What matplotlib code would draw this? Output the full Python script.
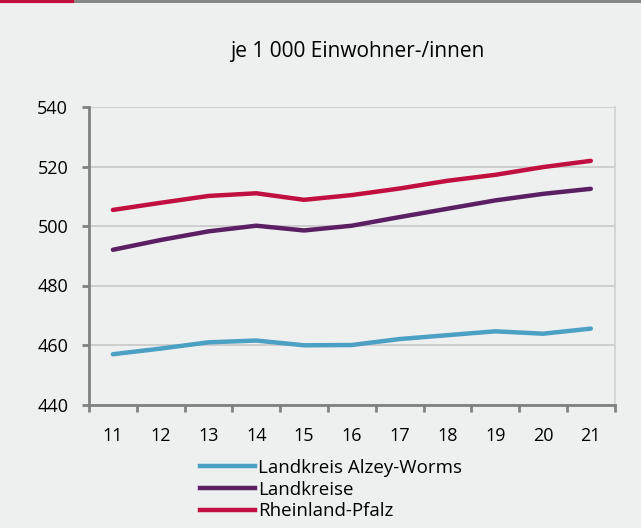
import numpy as np
import matplotlib
matplotlib.use("Agg")
import matplotlib.pyplot as plt
from matplotlib.lines import Line2D

plt.rcParams['font.family'] = ['Open Sans', 'DejaVu Sans']

years = ["11", "12", "13", "14", "15", "16", "17", "18", "19", "20", "21"]
alzey = [456.9, 458.8, 460.9, 461.5, 459.9, 460.0, 462.0, 463.3, 464.6, 463.8, 465.5]
landkreise = [492.0, 495.3, 498.2, 500.1, 498.5, 500.1, 503.0, 505.8, 508.6, 510.8, 512.5]
rlp = [505.4, 507.8, 510.1, 511.0, 508.8, 510.4, 512.6, 515.2, 517.2, 519.8, 521.9]

labels = ["Landkreis Alzey-Worms", "Landkreise", "Rheinland-Pfalz"]
colors = ["#4ba0c4", "#5b1f63", "#c1103f"]
bg = "#eeefef"

fig = plt.figure(figsize=(6.41, 5.28), dpi=100, facecolor=bg)
ax = fig.add_axes([89/641, 1-404.5/528, (614.7-89)/641, (404.5-107)/528])
ax.set_facecolor(bg)

x = np.arange(len(years))
for vals, c in zip([alzey, landkreise, rlp], colors):
    ax.plot(x, vals, color=c, lw=3.2, solid_capstyle="round", zorder=3)

ax.set_xlim(-0.5, len(years) - 0.5)
ax.set_ylim(440, 540)
ax.set_yticks(np.arange(440, 541, 20))
ax.set_xticks(x)
ax.set_xticklabels(years)
ax.set_xticks(np.arange(-0.5, len(years), 1), minor=True)
ax.tick_params(axis="x", which="major", length=0, pad=16, labelsize=13)
ax.tick_params(axis="x", which="minor", length=5, width=2, color="#808080")
ax.tick_params(axis="y", length=5, width=2, color="#808080", pad=10, labelsize=13)
ax.grid(axis="y", color="#c8c8c8", lw=1.2)
ax.set_axisbelow(True)

for s in ["left", "bottom"]:
    ax.spines[s].set_color("#808080")
    ax.spines[s].set_linewidth(2)
ax.spines["top"].set_visible(False)
ax.spines["right"].set_color("#d0d0d0")
ax.spines["right"].set_linewidth(1.2)

fig.text(357/641, 1-51/528, "je 1 000 Einwohner-/innen", ha="center", va="center", fontsize=15)

handles = [Line2D([0], [0], color=c, lw=3.2) for c in colors]
fig.legend(handles, labels, loc="upper left", bbox_to_anchor=(200/641, 1-459/528),
           frameon=False, fontsize=13.5, handlelength=2.93, handletextpad=0.16,
           labelspacing=0.2, borderpad=0, borderaxespad=0)

# top border line with red mark
fig.add_artist(Line2D([0, 1], [0.998, 0.998], color="#808080", lw=2, transform=fig.transFigure))
fig.add_artist(Line2D([0, 72/641], [0.998, 0.998], color="#c1103f", lw=3, transform=fig.transFigure))

fig.savefig("out.png", dpi=100, facecolor=bg)
